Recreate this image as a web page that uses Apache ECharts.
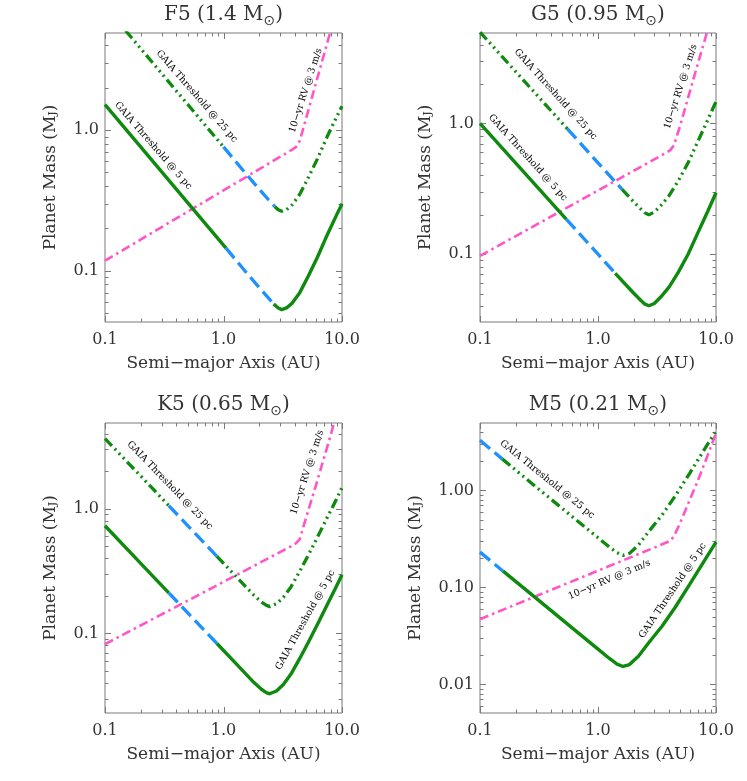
<!DOCTYPE html>
<html>
<head>
<meta charset="utf-8">
<script src="https://cdn.jsdelivr.net/npm/echarts@6/dist/echarts.min.js"></script>
<style>
  html, body { margin: 0; padding: 0; background: #fff; }
  #main { width: 747px; height: 781px; }
</style>
</head>
<body>
<div id="main"></div>
<script>
// ---- tick values (shared by the four panels) ----
var xMajorTicks = [0.1, 1, 10];
var xMinorTicks = [0.2, 0.3, 0.4, 0.5, 0.6, 0.7, 0.8, 0.9, 2, 3, 4, 5, 6, 7, 8, 9];
var yMajorTicks = [0.01, 0.1, 1];
var yMinorTicks = [0.002, 0.003, 0.004, 0.005, 0.006, 0.007, 0.008, 0.009,
  0.02, 0.03, 0.04, 0.05, 0.06, 0.07, 0.08, 0.09,
  0.2, 0.3, 0.4, 0.5, 0.6, 0.7, 0.8, 0.9, 2, 3, 4, 5, 6, 7, 8, 9];

// ---- F5 (1.4 Msun) ----  [a (AU), mass (MJ)]
var f5Gaia5 = [[0.1, 1.52], [0.2, 0.76], [0.5, 0.304], [1.05, 0.145], [1.5, 0.101], [2.0, 0.076],
  [2.4, 0.064], [2.65, 0.058], [2.9, 0.0545], [3.1, 0.053], [3.4, 0.0545], [3.8, 0.059], [4.4, 0.070],
  [5.2, 0.092], [6.2, 0.125], [7.5, 0.18], [8.7, 0.235], [10, 0.30]];
var f5Gaia5Blue = [1.05, 2.65];
var f5Gaia25 = [[0.1, 7.6], [0.2, 3.8], [0.5, 1.52], [1.0, 0.76], [1.5, 0.505], [2.0, 0.38],
  [2.4, 0.32], [2.7, 0.287], [2.9, 0.272], [3.1, 0.265], [3.4, 0.272], [3.8, 0.295], [4.4, 0.35],
  [5.2, 0.46], [6.2, 0.625], [7.5, 0.9], [8.7, 1.17], [10, 1.48]];
var f5Gaia25Blue = [1.0, 2.7];
var f5Rv = [[0.1, 0.118], [1.0, 0.373], [3.0, 0.646], [3.8, 0.727], [4.1, 0.76], [4.4, 0.84],
  [5.0, 1.23], [6.0, 2.13], [7.0, 3.38], [8.0, 5.05]];

// ---- G5 (0.95 Msun) ----
var g5Gaia5 = [[0.1, 1.0], [0.2, 0.5], [0.54, 0.185], [1.0, 0.1], [1.4, 0.0714], [2.0, 0.0505],
  [2.3, 0.0445], [2.5, 0.0415], [2.7, 0.0403], [3.0, 0.042], [3.4, 0.047], [4.0, 0.056],
  [4.8, 0.073], [5.8, 0.10], [7.0, 0.145], [8.5, 0.212], [10, 0.295]];
var g5Gaia5Blue = [0.54, 1.4];
var g5Gaia25 = [[0.1, 5.0], [0.2, 2.5], [0.55, 0.91], [1.0, 0.5], [1.6, 0.313], [2.0, 0.252],
  [2.3, 0.222], [2.5, 0.207], [2.7, 0.2], [3.0, 0.21], [3.4, 0.235], [4.0, 0.28],
  [4.8, 0.365], [5.8, 0.5], [7.0, 0.725], [8.5, 1.06], [10, 1.47]];
var g5Gaia25Blue = [0.55, 1.6];
var g5Rv = [[0.1, 0.097], [1.0, 0.307], [3.0, 0.531], [3.8, 0.598], [4.1, 0.625], [4.4, 0.68],
  [5.0, 0.98], [6.0, 1.75], [7.0, 2.85], [8.0, 4.3], [9.0, 6.2]];

// ---- K5 (0.65 Msun) ----
var k5Gaia5 = [[0.1, 0.73], [0.2, 0.365], [0.345, 0.2116], [0.88, 0.083], [1.3, 0.0562],
  [1.8, 0.0405], [2.1, 0.0355], [2.3, 0.0335], [2.45, 0.0328], [2.8, 0.0345], [3.2, 0.039],
  [3.7, 0.047], [4.4, 0.063], [5.2, 0.085], [6.2, 0.118], [7.5, 0.17], [8.7, 0.225], [10, 0.296]];
var k5Gaia5Blue = [0.345, 0.88];
var k5Gaia25 = [[0.1, 3.65], [0.2, 1.83], [0.345, 1.06], [0.88, 0.415], [1.3, 0.281],
  [1.8, 0.203], [2.1, 0.178], [2.3, 0.168], [2.45, 0.164], [2.8, 0.173], [3.2, 0.195],
  [3.7, 0.235], [4.4, 0.315], [5.2, 0.425], [6.2, 0.59], [7.5, 0.85], [8.7, 1.12], [10, 1.48]];
var k5Gaia25Blue = [0.345, 0.88];
var k5Rv = [[0.1, 0.082], [1.0, 0.259], [3.0, 0.449], [3.8, 0.505], [4.1, 0.53], [4.4, 0.57],
  [5.0, 0.86], [6.0, 1.52], [7.0, 2.5], [8.0, 3.85], [9.0, 5.8]];

// ---- M5 (0.21 Msun) ----
var m5Gaia5 = [[0.1, 0.231], [0.157, 0.147], [0.3, 0.077], [0.6, 0.0385], [1.0, 0.0231],
  [1.25, 0.0185], [1.45, 0.0162], [1.63, 0.0153], [1.85, 0.016], [2.2, 0.0195], [2.7, 0.027],
  [3.5, 0.040], [4.5, 0.062], [6.0, 0.108], [8.0, 0.19], [10, 0.293]];
var m5Gaia5Blue = [0.1, 0.157];
var m5Gaia25 = [[0.1, 3.28], [0.155, 2.1], [0.3, 1.08], [0.6, 0.54], [1.0, 0.325],
  [1.25, 0.26], [1.45, 0.228], [1.63, 0.214], [1.85, 0.224], [2.2, 0.273], [2.7, 0.378],
  [3.5, 0.56], [4.5, 0.87], [6.0, 1.51], [8.0, 2.66], [10, 4.1]];
var m5Gaia25Blue = [0.1, 0.155];
var m5Rv = [[0.1, 0.047], [1.0, 0.1486], [3.0, 0.257], [3.8, 0.29], [4.1, 0.303], [4.4, 0.336],
  [5.0, 0.47], [6.0, 0.8], [7.0, 1.25], [8.5, 2.3], [10, 3.9]];

// ---- curve labels: [a, mass, text, rotation deg] ----
var f5Labels = [[0.594, 1.74, 'GAIA Threshold @ 25 pc', -49], [0.255, 0.776, 'GAIA Threshold @ 5 pc', -49],
  [4.94, 1.91, '10\u2212yr RV @ 3 m/s', 72]];
var g5Labels = [[0.437, 1.67, 'GAIA Threshold @ 25 pc', -48], [0.254, 0.548, 'GAIA Threshold @ 5 pc', -48],
  [5.03, 1.91, '10\u2212yr RV @ 3 m/s', 72]];
var k5Labels = [[0.352, 1.54, 'GAIA Threshold @ 25 pc', -46], [4.9, 0.128, 'GAIA Threshold @ 5 pc', 61],
  [5.09, 1.96, '10\u2212yr RV @ 3 m/s', 72]];
var m5Labels = [[0.371, 1.30, 'GAIA Threshold @ 25 pc', -39], [4.3, 0.0925, 'GAIA Threshold @ 5 pc', 56],
  [1.25, 0.12, '10\u2212yr RV @ 3 m/s', 23]];

var panelNames = ['F5 (1.4 M', 'G5 (0.95 M', 'K5 (0.65 M', 'M5 (0.21 M'];
var yRanges = [[0.0433, 4.9], [0.0303, 4.92], [0.023, 4.87], [0.00507, 4.95]];
var yDigits = [1, 1, 1, 2];

var GREEN = '#0e8a0e', BLUE = '#1e90ff', PINK = '#ff55c8';
var AXIS = '#7a7a7a', TEXT = '#333';
var FONT = '"DejaVu Serif", "Liberation Serif", serif';

var panels = [
  { g5: f5Gaia5, g5b: f5Gaia5Blue, g25: f5Gaia25, g25b: f5Gaia25Blue, rv: f5Rv, labels: f5Labels,
    grid: { left: 105, top: 33, width: 237, height: 289 }, nameGap: 46 },
  { g5: g5Gaia5, g5b: g5Gaia5Blue, g25: g5Gaia25, g25b: g5Gaia25Blue, rv: g5Rv, labels: g5Labels,
    grid: { left: 480, top: 33, width: 236, height: 289 }, nameGap: 46 },
  { g5: k5Gaia5, g5b: k5Gaia5Blue, g25: k5Gaia25, g25b: k5Gaia25Blue, rv: k5Rv, labels: k5Labels,
    grid: { left: 105, top: 423, width: 237, height: 290 }, nameGap: 46 },
  { g5: m5Gaia5, g5b: m5Gaia5Blue, g25: m5Gaia25, g25b: m5Gaia25Blue, rv: m5Rv, labels: m5Labels,
    grid: { left: 480, top: 423, width: 236, height: 290 }, nameGap: 56 }
];

function isPow10(v) {
  var l = Math.log(v) / Math.LN10;
  return Math.abs(l - Math.round(l)) < 1e-6;
}

// cut a curve into green / blue / green parts at two a-values that are in the list
function splitCurve(points, blue) {
  var i0 = -1, i1 = -1;
  points.forEach(function (p, i) {
    if (p[0] === blue[0]) i0 = i;
    if (p[0] === blue[1]) i1 = i;
  });
  return {
    before: points.slice(0, i0 + 1),
    blue: points.slice(i0, i1 + 1),
    after: points.slice(i1)
  };
}

function lineSeries(i, data, color, width, dash, z) {
  return {
    type: 'line', xAxisIndex: i, yAxisIndex: i, data: data,
    symbol: 'none', showSymbol: false, smooth: false, animation: false, silent: true, z: z,
    lineStyle: { color: color, width: width, type: dash || 'solid', cap: 'butt' }
  };
}

var grids = [], xAxes = [], yAxes = [], series = [], titles = [];

panels.forEach(function (p, i) {
  var yMin = yRanges[i][0], yMax = yRanges[i][1];
  grids.push(Object.assign({ show: true, borderColor: AXIS, borderWidth: 1, backgroundColor: 'transparent' }, p.grid));

  titles.push({
    text: '{t|' + panelNames[i] + '}{s|\u2299}{t|)}',
    left: p.grid.left + p.grid.width / 2, top: p.grid.top - 31, textAlign: 'center', padding: 0,
    textStyle: {
      fontWeight: 'normal',
      rich: {
        t: { fontFamily: FONT, fontSize: 20, fontWeight: 'normal', color: TEXT, lineHeight: 26 },
        s: { fontFamily: 'DejaVu Sans', fontSize: 14, fontWeight: 'normal', color: TEXT, lineHeight: 14, verticalAlign: 'bottom' }
      }
    }
  });

  xAxes.push({
    type: 'log', logBase: 10, gridIndex: i, min: 0.1, max: 10,
    axisLine: { show: false }, axisTick: { show: false }, splitLine: { show: false },
    axisLabel: {
      fontFamily: FONT, fontSize: 16, color: TEXT, margin: 10, showMinLabel: true, showMaxLabel: true,
      formatter: function (v) { return isPow10(v) ? v.toFixed(1) : ''; }
    },
    name: 'Semi\u2212major Axis (AU)', nameLocation: 'middle', nameGap: 33,
    nameTextStyle: { fontFamily: FONT, fontSize: 17, color: TEXT }
  });

  yAxes.push({
    type: 'log', logBase: 10, gridIndex: i, min: yMin, max: yMax,
    axisLine: { show: false }, axisTick: { show: false }, splitLine: { show: false },
    axisLabel: {
      fontFamily: FONT, fontSize: 16, color: TEXT, margin: 6,
      formatter: function (v) { return isPow10(v) ? v.toFixed(yDigits[i]) : ''; }
    },
    name: 'Planet Mass (M{s|J})', nameLocation: 'middle', nameGap: p.nameGap, nameRotate: 90,
    nameTextStyle: {
      fontFamily: FONT, fontSize: 17, color: TEXT,
      rich: { s: { fontFamily: FONT, fontSize: 11, color: TEXT, verticalAlign: 'bottom', lineHeight: 12 } }
    }
  });

  // RV curve
  series.push(lineSeries(i, p.rv, PINK, 2.6, [9, 4, 2.5, 4], 3));

  // GAIA 25 pc
  var s25 = splitCurve(p.g25, p.g25b);
  var dash25 = [10, 4, 2, 4, 2, 4, 2, 4];
  if (s25.before.length > 1) series.push(lineSeries(i, s25.before, GREEN, 3.3, dash25, 4));
  series.push(lineSeries(i, s25.blue, BLUE, 3.3, [13, 6], 4));
  if (s25.after.length > 1) series.push(lineSeries(i, s25.after, GREEN, 3.3, dash25, 4));

  // GAIA 5 pc
  var s5 = splitCurve(p.g5, p.g5b);
  if (s5.before.length > 1) series.push(lineSeries(i, s5.before, GREEN, 3.4, 'solid', 5));
  series.push(lineSeries(i, s5.blue, BLUE, 3.3, [13, 6], 5));
  if (s5.after.length > 1) series.push(lineSeries(i, s5.after, GREEN, 3.4, 'solid', 5));

  // curve labels
  series.push({
    type: 'custom', xAxisIndex: i, yAxisIndex: i, silent: true, animation: false, z: 6,
    data: p.labels.map(function (l) { return [l[0], l[1]]; }),
    renderItem: function (params, api) {
      var l = p.labels[params.dataIndex];
      var pt = api.coord([api.value(0), api.value(1)]);
      return {
        type: 'text', x: pt[0], y: pt[1], rotation: l[3] * Math.PI / 180,
        style: { text: l[2], fontFamily: FONT, fontSize: 9.5, fontWeight: 'normal', fill: '#000',
          align: 'center', verticalAlign: 'middle' }
      };
    }
  });

  // IDL style inward ticks on all four sides
  var tickData = [];
  xMajorTicks.forEach(function (v) { tickData.push([v, yMin, 0]); });
  xMinorTicks.forEach(function (v) { tickData.push([v, yMin, 1]); });
  yMajorTicks.forEach(function (v) { if (v >= yMin && v <= yMax) tickData.push([0.1, v, 2]); });
  yMinorTicks.forEach(function (v) { if (v >= yMin && v <= yMax) tickData.push([0.1, v, 3]); });
  series.push({
    type: 'custom', xAxisIndex: i, yAxisIndex: i, silent: true, animation: false, z: 2, clip: false,
    data: tickData,
    renderItem: function (params, api) {
      var kind = api.value(2);
      var len = (kind === 0 || kind === 2) ? 6 : 3.5;
      var cs = params.coordSys;
      var pt = api.coord([api.value(0), api.value(1)]);
      var st = { stroke: AXIS, lineWidth: 1 };
      if (kind < 2) {
        var x = Math.round(pt[0]) + 0.5, yb = cs.y + cs.height, yt = cs.y;
        return { type: 'group', children: [
          { type: 'line', shape: { x1: x, y1: yb, x2: x, y2: yb - len }, style: st },
          { type: 'line', shape: { x1: x, y1: yt, x2: x, y2: yt + len }, style: st }
        ] };
      }
      var y = Math.round(pt[1]) + 0.5, xl = cs.x, xr = cs.x + cs.width;
      return { type: 'group', children: [
        { type: 'line', shape: { x1: xl, y1: y, x2: xl + len, y2: y }, style: st },
        { type: 'line', shape: { x1: xr, y1: y, x2: xr - len, y2: y }, style: st }
      ] };
    }
  });
});

var chart = echarts.init(document.getElementById('main'), null, { renderer: 'canvas' });
chart.setOption({
  backgroundColor: '#fff',
  animation: false,
  title: titles,
  grid: grids,
  xAxis: xAxes,
  yAxis: yAxes,
  series: series
});
</script>
</body>
</html>
